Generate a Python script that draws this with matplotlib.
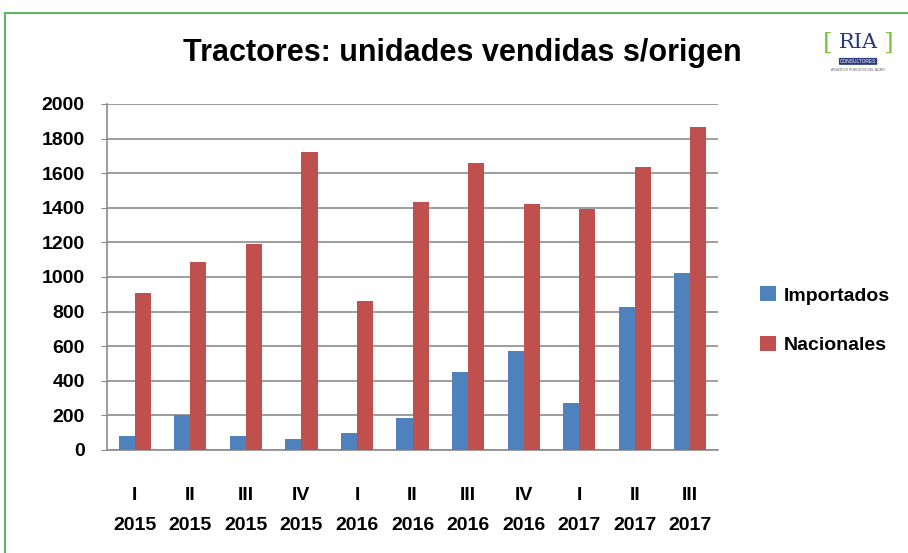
import matplotlib
matplotlib.use('Agg')
from matplotlib import pyplot as plt
from matplotlib.patches import Rectangle
import numpy as np

plt.rcParams['font.family'] = ['Liberation Sans', 'DejaVu Sans']

# datos
trimestres = ['I', 'II', 'III', 'IV', 'I', 'II', 'III', 'IV', 'I', 'II', 'III']
anios = ['2015', '2015', '2015', '2015', '2016', '2016', '2016', '2016', '2017', '2017', '2017']
importados = [83, 202, 83, 62, 96, 183, 451, 574, 273, 828, 1021]
nacionales = [909, 1087, 1189, 1724, 863, 1432, 1657, 1422, 1391, 1634, 1869]

fig = plt.figure(figsize=(9.08, 5.53), dpi=100)
ax = fig.add_axes([0.1178, 0.1863, 0.673, 0.6257])

x = np.arange(len(trimestres))
w = 0.29
ax.bar(x - w / 2, importados, w, color='#4F81BD', label='Importados', zorder=3)
ax.bar(x + w / 2, nacionales, w, color='#C0504D', label='Nacionales', zorder=3)

ax.set_xlim(-0.5, len(trimestres) - 0.5)
ax.set_ylim(0, 2000)
ax.set_yticks(range(0, 2001, 200))
ax.set_yticklabels([str(v) for v in range(0, 2001, 200)], fontsize=14, fontweight='bold')
ax.yaxis.grid(True, color='#8c8c8c', linewidth=1.2, zorder=0)
ax.tick_params(axis='y', length=4, color='#8c8c8c', pad=12)
ax.tick_params(axis='x', length=0, pad=27)
ax.set_xticks(x)
ax.set_xticklabels([t + '\n\n' + a for t, a in zip(trimestres, anios)],
                   fontsize=14, fontweight='bold', linespacing=0.84)
for s in ['top', 'right']:
    ax.spines[s].set_visible(False)
for s in ['left', 'bottom']:
    ax.spines[s].set_color('#8c8c8c')
    ax.spines[s].set_linewidth(1.2)

fig.text(0.509, 0.905, 'Tractores: unidades vendidas s/origen', ha='center', va='center',
         fontsize=22, fontweight='bold')

ax.legend(loc='center left', bbox_to_anchor=(1.04, 0.375), frameon=False,
          prop={'size': 14, 'weight': 'bold'}, handlelength=0.8, handleheight=0.8,
          labelspacing=1.6, handletextpad=0.4)

# marco verde
fig.patches.append(Rectangle((0.006, -0.05), 1.1, 1.026, transform=fig.transFigure,
                             fill=False, edgecolor='#5cb85c', linewidth=1.5))

# logo
fig.text(0.912, 0.922, '[', fontsize=18, color='#7dc242', ha='center', va='center', family='DejaVu Serif')
fig.text(0.945, 0.924, 'RIA', fontsize=15, color='#2b3a7a', ha='center', va='center', family='DejaVu Serif')
fig.text(0.978, 0.922, ']', fontsize=18, color='#7dc242', ha='center', va='center', family='DejaVu Serif')
fig.text(0.945, 0.889, 'CONSULTORES', fontsize=3.5, color='white', ha='center', va='center',
         bbox=dict(boxstyle='round,pad=0.2', fc='#2b3a7a', ec='none'))
fig.text(0.945, 0.874, 'ASUNTOS PUBLICOS DEL AGRO', fontsize=2.5, color='#555555', ha='center', va='center')

fig.savefig('out.png', dpi=100)
